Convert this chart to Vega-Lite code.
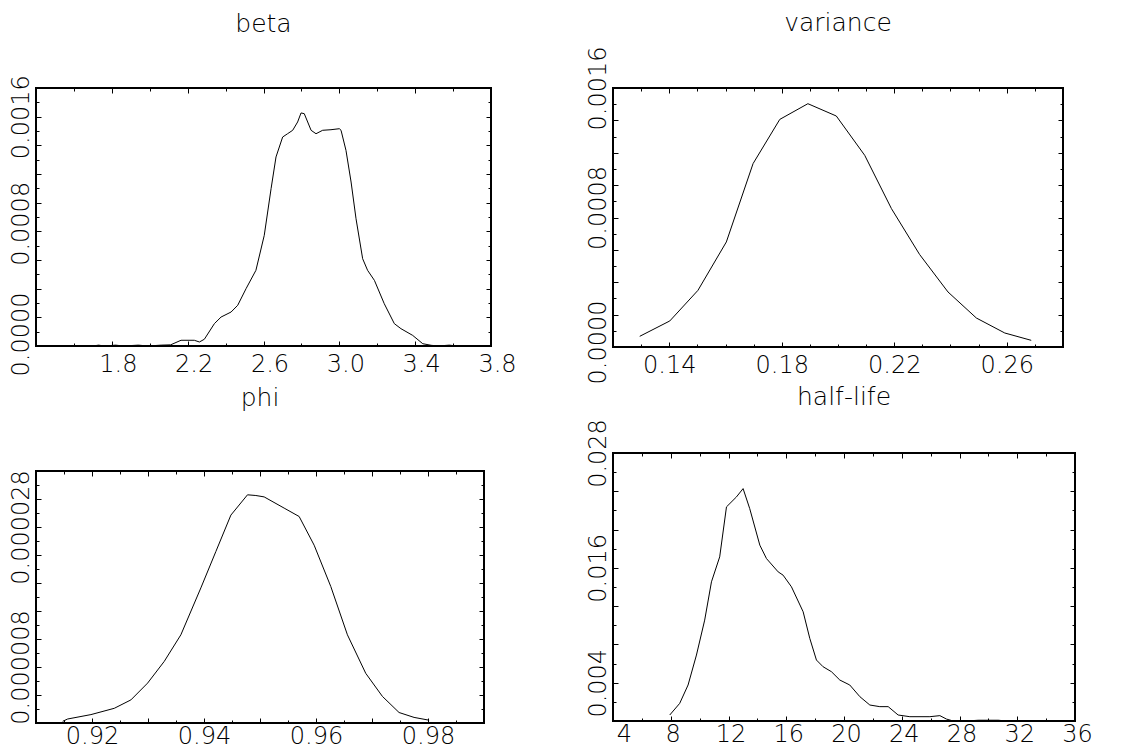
{
  "$schema": "https://vega.github.io/schema/vega-lite/v6.json",
  "background": "white",
  "padding": {"left": 6, "top": 10, "right": 0, "bottom": 0},
  "config": {
    "font": "DejaVu Sans",
    "view": {"stroke": "black", "strokeWidth": 2},
    "axis": {"domain": false, "grid": false, "tickColor": "black", "tickWidth": 1, "labelColor": "black", "labelFont": "DejaVu Sans", "labelFontSize": 24, "labelFontWeight": 200, "labelOverlap": false, "labelFlush": false, "labelBound": false, "title": null},
    "title": {"font": "DejaVu Sans", "fontSize": 25, "fontWeight": 200, "color": "black", "anchor": "middle"},
    "line": {"color": "black", "strokeWidth": 1}
  },
  "datasets": {
    "beta": [
      {"x": 1.45, "y": 0}, {"x": 1.7, "y": 0}, {"x": 1.73, "y": 0.000006}, {"x": 1.76, "y": 0}, {"x": 1.82, "y": 0.000006}, {"x": 1.86, "y": 0}, {"x": 1.94, "y": 0.000006}, {"x": 1.99, "y": 0}, {"x": 2.06, "y": 0.000006}, {"x": 2.11, "y": 0.000008},
      {"x": 2.165, "y": 0.00004}, {"x": 2.235, "y": 0.00004}, {"x": 2.262, "y": 0.000028}, {"x": 2.288, "y": 0.000047}, {"x": 2.341, "y": 0.000156}, {"x": 2.376, "y": 0.000202}, {"x": 2.429, "y": 0.000237}, {"x": 2.464, "y": 0.000284}, {"x": 2.508, "y": 0.0004}, {"x": 2.56, "y": 0.000528},
      {"x": 2.604, "y": 0.000772}, {"x": 2.64, "y": 0.001098}, {"x": 2.666, "y": 0.001319}, {"x": 2.701, "y": 0.001458}, {"x": 2.727, "y": 0.001481}, {"x": 2.754, "y": 0.001505}, {"x": 2.78, "y": 0.001563}, {"x": 2.798, "y": 0.001626}, {"x": 2.815, "y": 0.001621}, {"x": 2.851, "y": 0.001505},
      {"x": 2.877, "y": 0.001481}, {"x": 2.912, "y": 0.001505}, {"x": 2.956, "y": 0.001509}, {"x": 3.0, "y": 0.001516}, {"x": 3.009, "y": 0.001505}, {"x": 3.035, "y": 0.001365}, {"x": 3.062, "y": 0.001144}, {"x": 3.088, "y": 0.000888}, {"x": 3.123, "y": 0.000609}, {"x": 3.149, "y": 0.000528},
      {"x": 3.185, "y": 0.000458}, {"x": 3.237, "y": 0.000295}, {"x": 3.29, "y": 0.000156}, {"x": 3.325, "y": 0.000121}, {"x": 3.387, "y": 0.000074}, {"x": 3.44, "y": 0.000016}, {"x": 3.484, "y": 0.000005}, {"x": 3.52, "y": 0}, {"x": 3.58, "y": 0.000006}, {"x": 3.62, "y": 0}
    ],
    "variance": [
      {"x": 0.1295, "y": 0.000066}, {"x": 0.1402, "y": 0.000161}, {"x": 0.1502, "y": 0.00035}, {"x": 0.1603, "y": 0.000649}, {"x": 0.1698, "y": 0.001133}, {"x": 0.1793, "y": 0.001406}, {"x": 0.1893, "y": 0.001503}, {"x": 0.1994, "y": 0.001427},
      {"x": 0.2095, "y": 0.001184}, {"x": 0.219, "y": 0.000855}, {"x": 0.229, "y": 0.000572}, {"x": 0.2391, "y": 0.00034}, {"x": 0.2492, "y": 0.000179}, {"x": 0.2593, "y": 0.0000865}, {"x": 0.2687, "y": 0.0000412}
    ],
    "phi": [
      {"x": 0.91476, "y": 0.00000024}, {"x": 0.91565, "y": 0.00000057}, {"x": 0.91981, "y": 0.0000012}, {"x": 0.92398, "y": 0.0000021}, {"x": 0.92695, "y": 0.0000033}, {"x": 0.92993, "y": 0.0000057}, {"x": 0.9329, "y": 0.0000088}, {"x": 0.93587, "y": 0.0000126},
      {"x": 0.93944, "y": 0.0000193}, {"x": 0.94212, "y": 0.0000245}, {"x": 0.9448, "y": 0.0000297}, {"x": 0.94777, "y": 0.0000326}, {"x": 0.94926, "y": 0.0000325}, {"x": 0.95074, "y": 0.0000323}, {"x": 0.95431, "y": 0.0000307}, {"x": 0.95699, "y": 0.0000295},
      {"x": 0.95967, "y": 0.0000254}, {"x": 0.96264, "y": 0.0000195}, {"x": 0.96561, "y": 0.0000126}, {"x": 0.96888, "y": 0.0000071}, {"x": 0.97186, "y": 0.0000038}, {"x": 0.97483, "y": 0.0000015}, {"x": 0.97751, "y": 0.0000008}, {"x": 0.98019, "y": 0.0000004}
    ],
    "halflife": [
      {"x": 7.93, "y": 0.000626}, {"x": 8.62, "y": 0.00184}, {"x": 9.2, "y": 0.00376}, {"x": 9.78, "y": 0.00689}, {"x": 10.35, "y": 0.01054}, {"x": 10.82, "y": 0.01454}, {"x": 11.39, "y": 0.01715}, {"x": 11.86, "y": 0.02237},
      {"x": 12.55, "y": 0.02341}, {"x": 13.01, "y": 0.02428}, {"x": 13.47, "y": 0.02219}, {"x": 14.17, "y": 0.01837}, {"x": 14.63, "y": 0.01697}, {"x": 15.44, "y": 0.01558}, {"x": 15.78, "y": 0.01524}, {"x": 16.36, "y": 0.01402},
      {"x": 17.17, "y": 0.01141}, {"x": 17.63, "y": 0.00863}, {"x": 18.09, "y": 0.00637}, {"x": 18.55, "y": 0.00567}, {"x": 19.13, "y": 0.00515}, {"x": 19.71, "y": 0.00428}, {"x": 20.4, "y": 0.00376}, {"x": 21.1, "y": 0.00254},
      {"x": 21.79, "y": 0.00167}, {"x": 22.48, "y": 0.0015}, {"x": 23.06, "y": 0.0015}, {"x": 23.75, "y": 0.000626}, {"x": 24.56, "y": 0.00045}, {"x": 25.95, "y": 0.00045}, {"x": 26.64, "y": 0.00056}, {"x": 27.1, "y": 0.0002},
      {"x": 27.57, "y": 0}, {"x": 28.5, "y": 0}, {"x": 29.3, "y": 0.00008}, {"x": 30.7, "y": 0.00008}, {"x": 31.2, "y": 0}, {"x": 33.5, "y": 0}
    ]
  },
  "spacing": 65,
  "hconcat": [
    {
      "spacing": 5,
      "vconcat": [
        {
          "width": 455, "height": 258,
          "title": {"text": "beta", "offset": 38},
          "data": {"name": "beta"},
          "layer": [
            {
              "mark": {"type": "line", "clip": true},
              "encoding": {
                "x": {"field": "x", "type": "quantitative", "scale": {"domain": [1.4, 3.8], "nice": false, "zero": false},
                  "axis": {"orient": "bottom", "values": [1.4, 1.6, 1.8, 2.0, 2.2, 2.4, 2.6, 2.8, 3.0, 3.2, 3.4, 3.6, 3.8],
                    "tickSize": {"condition": {"test": "abs((datum.value-1.4)/0.4 - round((datum.value-1.4)/0.4)) < 0.01", "value": -5}, "value": -3},
                    "labelExpr": "abs((datum.value-1.4)/0.4 - round((datum.value-1.4)/0.4)) < 0.01 && datum.value > 1.5 ? format(datum.value, '.1f') : ''",
                    "labelOffset": 6, "labelPadding": 11}},
                "y": {"field": "y", "type": "quantitative", "scale": {"domain": [0, 0.0018], "nice": false, "zero": false},
                  "axis": {"orient": "left", "values": [0, 0.0001, 0.0002, 0.0003, 0.0004, 0.0005, 0.0006, 0.0007, 0.0008, 0.0009, 0.001, 0.0011, 0.0012, 0.0013, 0.0014, 0.0015, 0.0016, 0.0017, 0.0018],
                    "tickSize": {"condition": {"test": "round(datum.value*10000) % 2 == 0", "value": -5}, "value": -3},
                    "labelExpr": "round(datum.value*10000) % 8 == 0 ? format(datum.value, '.4f') : ''",
                    "labelAngle": -90, "labelPadding": 8,
                    "labelOffset": {"condition": [{"test": "round(datum.value*10000) == 8", "value": -8}, {"test": "round(datum.value*10000) == 0", "value": -12}], "value": 0}}}
              }
            },
            {
              "mark": {"type": "line", "opacity": 0},
              "encoding": {
                "x": {"field": "x", "type": "quantitative", "scale": {"domain": [1.4, 3.8], "nice": false, "zero": false},
                  "axis": {"orient": "top", "labels": false, "values": [1.4, 1.6, 1.8, 2.0, 2.2, 2.4, 2.6, 2.8, 3.0, 3.2, 3.4, 3.6, 3.8],
                    "tickSize": {"condition": {"test": "abs((datum.value-1.4)/0.4 - round((datum.value-1.4)/0.4)) < 0.01", "value": -5}, "value": -3}}},
                "y": {"field": "y", "type": "quantitative", "scale": {"domain": [0, 0.0018], "nice": false, "zero": false},
                  "axis": {"orient": "right", "labels": false, "values": [0, 0.0001, 0.0002, 0.0003, 0.0004, 0.0005, 0.0006, 0.0007, 0.0008, 0.0009, 0.001, 0.0011, 0.0012, 0.0013, 0.0014, 0.0015, 0.0016, 0.0017, 0.0018],
                    "tickSize": {"condition": {"test": "round(datum.value*10000) % 2 == 0", "value": -5}, "value": -3}}}
              }
            }
          ],
          "resolve": {"axis": {"x": "independent", "y": "independent"}}
        },
        {
          "width": 448, "height": 252,
          "title": {"text": "phi", "offset": 59},
          "data": {"name": "phi"},
          "layer": [
            {
              "mark": {"type": "line", "clip": true},
              "encoding": {
                "x": {"field": "x", "type": "quantitative", "scale": {"domain": [0.91, 0.99], "nice": false, "zero": false},
                  "axis": {"orient": "bottom", "values": [0.91, 0.915, 0.92, 0.925, 0.93, 0.935, 0.94, 0.945, 0.95, 0.955, 0.96, 0.965, 0.97, 0.975, 0.98, 0.985, 0.99],
                    "tickSize": {"condition": {"test": "abs(datum.value*100 - round(datum.value*100)) < 0.01", "value": -5}, "value": -3},
                    "labelExpr": "abs(datum.value*100 - round(datum.value*100)) < 0.01 && round(datum.value*100) % 2 == 0 ? format(datum.value, '.2f') : ''",
                    "labelPadding": 6}},
                "y": {"field": "y", "type": "quantitative", "scale": {"domain": [0, 0.000036], "nice": false, "zero": false},
                  "axis": {"orient": "left", "values": [0, 0.000002, 0.000004, 0.000006, 0.000008, 0.00001, 0.000012, 0.000014, 0.000016, 0.000018, 0.00002, 0.000022, 0.000024, 0.000026, 0.000028, 0.00003, 0.000032, 0.000034, 0.000036],
                    "tickSize": {"condition": {"test": "round(datum.value*1000000) % 4 == 0", "value": -5}, "value": -3},
                    "labelExpr": "round(datum.value*1000000) == 8 || round(datum.value*1000000) == 28 ? format(datum.value, '.6f') : ''",
                    "labelAngle": -90, "labelPadding": 8}}
              }
            },
            {
              "mark": {"type": "line", "opacity": 0},
              "encoding": {
                "x": {"field": "x", "type": "quantitative", "scale": {"domain": [0.91, 0.99], "nice": false, "zero": false},
                  "axis": {"orient": "top", "labels": false, "values": [0.91, 0.915, 0.92, 0.925, 0.93, 0.935, 0.94, 0.945, 0.95, 0.955, 0.96, 0.965, 0.97, 0.975, 0.98, 0.985, 0.99],
                    "tickSize": {"condition": {"test": "abs(datum.value*100 - round(datum.value*100)) < 0.01", "value": -5}, "value": -3}}},
                "y": {"field": "y", "type": "quantitative", "scale": {"domain": [0, 0.000036], "nice": false, "zero": false},
                  "axis": {"orient": "right", "labels": false, "values": [0, 0.000002, 0.000004, 0.000006, 0.000008, 0.00001, 0.000012, 0.000014, 0.000016, 0.000018, 0.00002, 0.000022, 0.000024, 0.000026, 0.000028, 0.00003, 0.000032, 0.000034, 0.000036],
                    "tickSize": {"condition": {"test": "round(datum.value*1000000) % 4 == 0", "value": -5}, "value": -3}}}
              }
            }
          ],
          "resolve": {"axis": {"x": "independent", "y": "independent"}}
        }
      ]
    },
    {
      "spacing": -2,
      "vconcat": [
        {
          "width": 450, "height": 259,
          "title": {"text": "variance", "offset": 10},
          "data": {"name": "variance"},
          "layer": [
            {
              "mark": {"type": "line", "clip": true},
              "encoding": {
                "x": {"field": "x", "type": "quantitative", "scale": {"domain": [0.12, 0.28], "nice": false, "zero": false},
                  "axis": {"orient": "bottom", "values": [0.12, 0.13, 0.14, 0.15, 0.16, 0.17, 0.18, 0.19, 0.2, 0.21, 0.22, 0.23, 0.24, 0.25, 0.26, 0.27, 0.28],
                    "tickSize": {"condition": {"test": "round(datum.value*100) % 4 == 2", "value": -5}, "value": -3},
                    "labelExpr": "round(datum.value*100) % 4 == 2 ? format(datum.value, '.2f') : ''",
                    "labelPadding": 11}},
                "y": {"field": "y", "type": "quantitative", "scale": {"domain": [0, 0.0016], "nice": false, "zero": false},
                  "axis": {"orient": "left", "values": [0, 0.0001, 0.0002, 0.0003, 0.0004, 0.0005, 0.0006, 0.0007, 0.0008, 0.0009, 0.001, 0.0011, 0.0012, 0.0013, 0.0014, 0.0015, 0.0016],
                    "tickSize": {"condition": {"test": "round(datum.value*10000) % 2 == 0", "value": -5}, "value": -3},
                    "labelExpr": "round(datum.value*10000) % 8 == 0 ? format(datum.value, '.4f') : ''",
                    "labelAngle": -90, "labelPadding": 8,
                    "labelOffset": {"condition": [{"test": "round(datum.value*10000) == 8", "value": -10}, {"test": "round(datum.value*10000) == 0", "value": -5}], "value": 0}}}
              }
            },
            {
              "mark": {"type": "line", "opacity": 0},
              "encoding": {
                "x": {"field": "x", "type": "quantitative", "scale": {"domain": [0.12, 0.28], "nice": false, "zero": false},
                  "axis": {"orient": "top", "labels": false, "values": [0.12, 0.13, 0.14, 0.15, 0.16, 0.17, 0.18, 0.19, 0.2, 0.21, 0.22, 0.23, 0.24, 0.25, 0.26, 0.27, 0.28],
                    "tickSize": {"condition": {"test": "round(datum.value*100) % 4 == 2", "value": -5}, "value": -3}}},
                "y": {"field": "y", "type": "quantitative", "scale": {"domain": [0, 0.0016], "nice": false, "zero": false},
                  "axis": {"orient": "right", "labels": false, "values": [0, 0.0001, 0.0002, 0.0003, 0.0004, 0.0005, 0.0006, 0.0007, 0.0008, 0.0009, 0.001, 0.0011, 0.0012, 0.0013, 0.0014, 0.0015, 0.0016],
                    "tickSize": {"condition": {"test": "round(datum.value*10000) % 2 == 0", "value": -5}, "value": -3}}}
              }
            }
          ],
          "resolve": {"axis": {"x": "independent", "y": "independent"}}
        },
        {
          "width": 462, "height": 268,
          "title": {"text": "half-life", "offset": 9},
          "data": {"name": "halflife"},
          "layer": [
            {
              "mark": {"type": "line", "clip": true},
              "encoding": {
                "x": {"field": "x", "type": "quantitative", "scale": {"domain": [4, 36], "nice": false, "zero": false},
                  "axis": {"orient": "bottom", "values": [4, 6, 8, 10, 12, 14, 16, 18, 20, 22, 24, 26, 28, 30, 32, 34, 36],
                    "tickSize": {"condition": {"test": "datum.value % 4 == 0", "value": -5}, "value": -3},
                    "labelExpr": "datum.value % 4 == 0 ? format(datum.value, 'd') : ''",
                    "labelOffset": {"condition": {"test": "datum.value == 4", "value": 11}, "value": 2},
                    "labelPadding": 6}},
                "y": {"field": "y", "type": "quantitative", "scale": {"domain": [0, 0.028], "nice": false, "zero": false},
                  "axis": {"orient": "left", "values": [0, 0.002, 0.004, 0.006, 0.008, 0.01, 0.012, 0.014, 0.016, 0.018, 0.02, 0.022, 0.024, 0.026, 0.028],
                    "tickSize": {"condition": {"test": "round(datum.value*1000) % 4 == 0", "value": -5}, "value": -3},
                    "labelExpr": "round(datum.value*1000) % 12 == 4 ? format(datum.value, '.3f') : ''",
                    "labelAngle": -90, "labelPadding": 8}}
              }
            },
            {
              "mark": {"type": "line", "opacity": 0},
              "encoding": {
                "x": {"field": "x", "type": "quantitative", "scale": {"domain": [4, 36], "nice": false, "zero": false},
                  "axis": {"orient": "top", "labels": false, "values": [4, 6, 8, 10, 12, 14, 16, 18, 20, 22, 24, 26, 28, 30, 32, 34, 36],
                    "tickSize": {"condition": {"test": "datum.value % 4 == 0", "value": -5}, "value": -3}}},
                "y": {"field": "y", "type": "quantitative", "scale": {"domain": [0, 0.028], "nice": false, "zero": false},
                  "axis": {"orient": "right", "labels": false, "values": [0, 0.002, 0.004, 0.006, 0.008, 0.01, 0.012, 0.014, 0.016, 0.018, 0.02, 0.022, 0.024, 0.026, 0.028],
                    "tickSize": {"condition": {"test": "round(datum.value*1000) % 4 == 0", "value": -5}, "value": -3}}}
              }
            }
          ],
          "resolve": {"axis": {"x": "independent", "y": "independent"}}
        }
      ]
    }
  ]
}
